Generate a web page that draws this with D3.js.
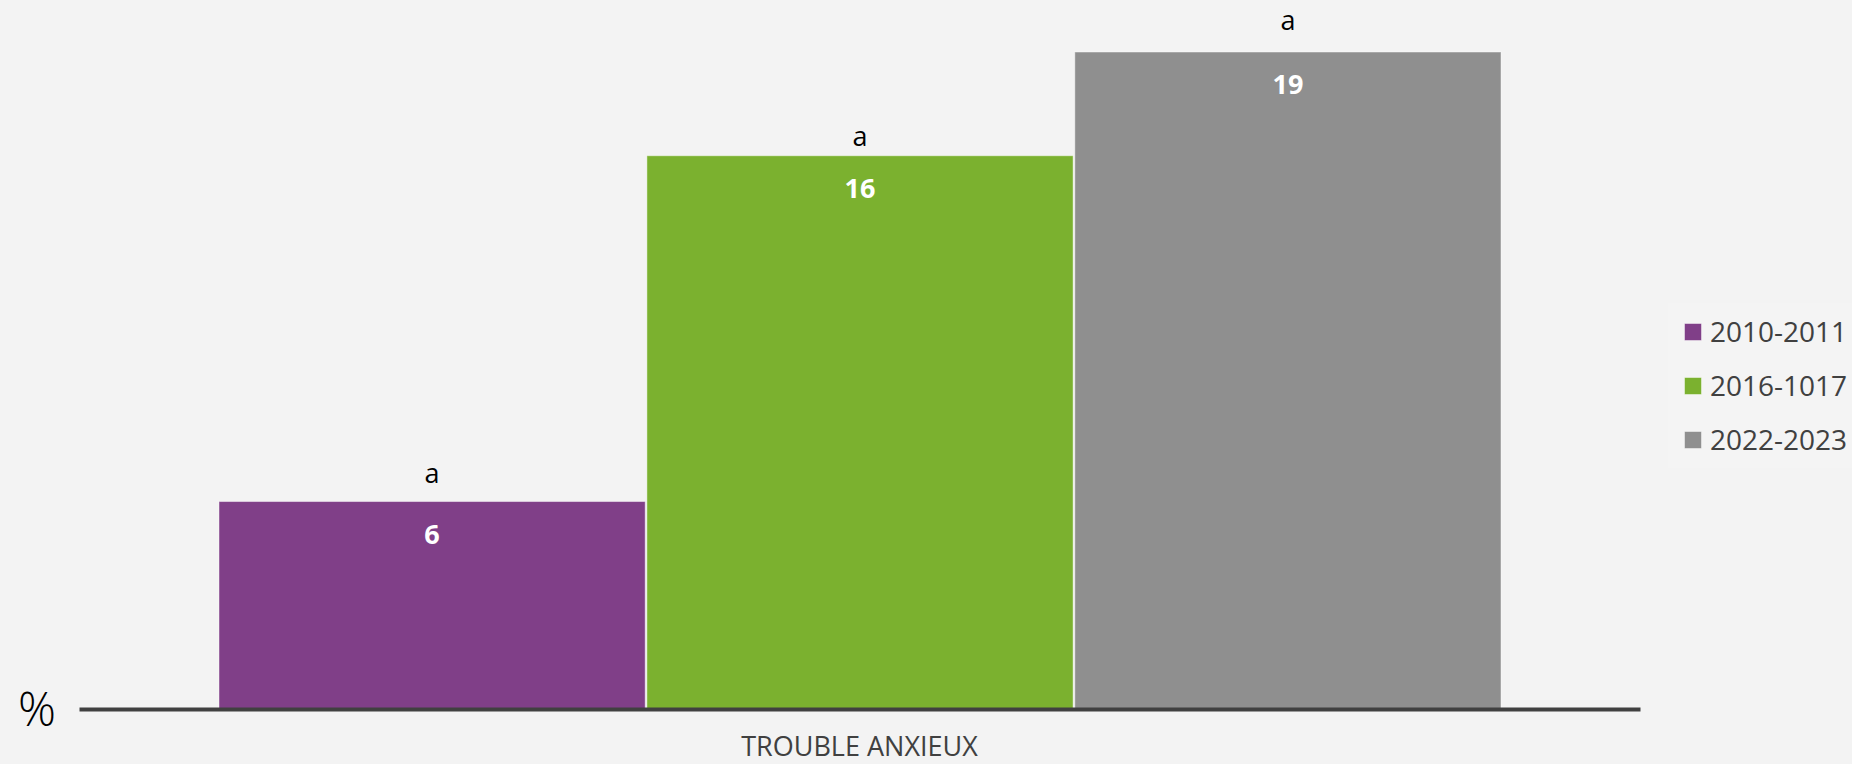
<!DOCTYPE html>
<html>
<head>
<meta charset="utf-8">
<script src="https://cdn.jsdelivr.net/npm/d3@7"></script>
<style>
  html, body { margin: 0; padding: 0; background: #f3f3f3; }
  svg { display: block; font-family: "Open Sans", "Noto Sans", sans-serif; }
</style>
</head>
<body>
<div id="chart"></div>
<script>
// data
var categories = ["TROUBLE ANXIEUX"];
var series = ["2010-2011", "2016-1017", "2022-2023"];
var values = [6, 16, 19];
var letters = ["a", "a", "a"];
// where the significance letters sit (in % units)
var letterAt = [6.54, 16.28, 19.64];
var colors = ["#803f88", "#7bb12f", "#8f8f8f"];

var width = 1852, height = 764;

var svg = d3.select("#chart")
  .append("svg")
  .attr("width", width)
  .attr("height", height);

svg.append("rect")
  .attr("width", width)
  .attr("height", height)
  .attr("fill", "#f3f3f3");

// scales
var x = d3.scaleBand()
  .domain(categories)
  .range([79, 1640]);

var xs = d3.scaleBand()
  .domain(series)
  .range([219, 1501])
  .paddingInner(0.004);

var y = d3.scaleLinear()
  .domain([0, 19])
  .range([709, 52]);

var data = series.map(function(s, i) {
  return {series: s, value: values[i], letter: letters[i], letterAt: letterAt[i], color: colors[i]};
});

// bars
svg.selectAll(".bar")
  .data(data)
  .enter()
  .append("rect")
  .attr("class", "bar")
  .attr("x", function(d) { return xs(d.series); })
  .attr("y", function(d) { return y(d.value); })
  .attr("width", xs.bandwidth())
  .attr("height", function(d) { return y(0) - y(d.value); })
  .attr("fill", function(d) { return d.color; })
  .attr("stroke", "rgba(255,255,255,0.45)")
  .attr("stroke-width", 1);

// value labels
svg.selectAll(".val")
  .data(data)
  .enter()
  .append("text")
  .attr("class", "val")
  .attr("x", function(d) { return xs(d.series) + xs.bandwidth() / 2; })
  .attr("y", function(d) { return y(d.value) + 42; })
  .attr("text-anchor", "middle")
  .attr("fill", "#ffffff")
  .style("font-size", "27px")
  .style("font-weight", "bold")
  .text(function(d) { return d.value; });

// letters above bars
svg.selectAll(".letter")
  .data(data)
  .enter()
  .append("text")
  .attr("class", "letter")
  .attr("x", function(d) { return xs(d.series) + xs.bandwidth() / 2; })
  .attr("y", function(d) { return y(d.letterAt); })
  .attr("text-anchor", "middle")
  .attr("fill", "#000000")
  .style("font-size", "27px")
  .text(function(d) { return d.letter; });

// x axis
var xAxis = svg.append("g")
  .attr("transform", "translate(0," + y(0) + ")")
  .call(d3.axisBottom(x).tickSize(0).tickSizeOuter(0));

xAxis.select(".domain")
  .attr("stroke", "#404040")
  .attr("stroke-width", 4);

xAxis.selectAll("text")
  .attr("y", 47)
  .attr("dy", 0)
  .attr("fill", "#404040")
  .style("font-size", "27px")
  .style("font-family", "\"Open Sans\", \"Noto Sans\", sans-serif");

// % unit
svg.append("text")
  .attr("x", 37)
  .attr("y", 726)
  .attr("text-anchor", "middle")
  .attr("fill", "#000000")
  .style("font-size", "47px")
  .style("font-weight", "300")
  .text("%");

// legend
var legend = svg.append("g")
  .attr("transform", "translate(1668,303)");

legend.append("rect")
  .attr("width", 184)
  .attr("height", 165)
  .attr("fill", "#f4f4f4");

var item = legend.selectAll(".item")
  .data(data)
  .enter()
  .append("g")
  .attr("class", "item")
  .attr("transform", function(d, i) { return "translate(0," + (i * 54) + ")"; });

item.append("rect")
  .attr("x", 16.5)
  .attr("y", 20.5)
  .attr("width", 17)
  .attr("height", 17)
  .attr("fill", function(d) { return d.color; })
  .attr("stroke", "rgba(255,255,255,0.45)")
  .attr("stroke-width", 1);

item.append("text")
  .attr("x", 42)
  .attr("y", 39)
  .attr("fill", "#404040")
  .style("font-size", "28px")
  .text(function(d) { return d.series; });
</script>
</body>
</html>
